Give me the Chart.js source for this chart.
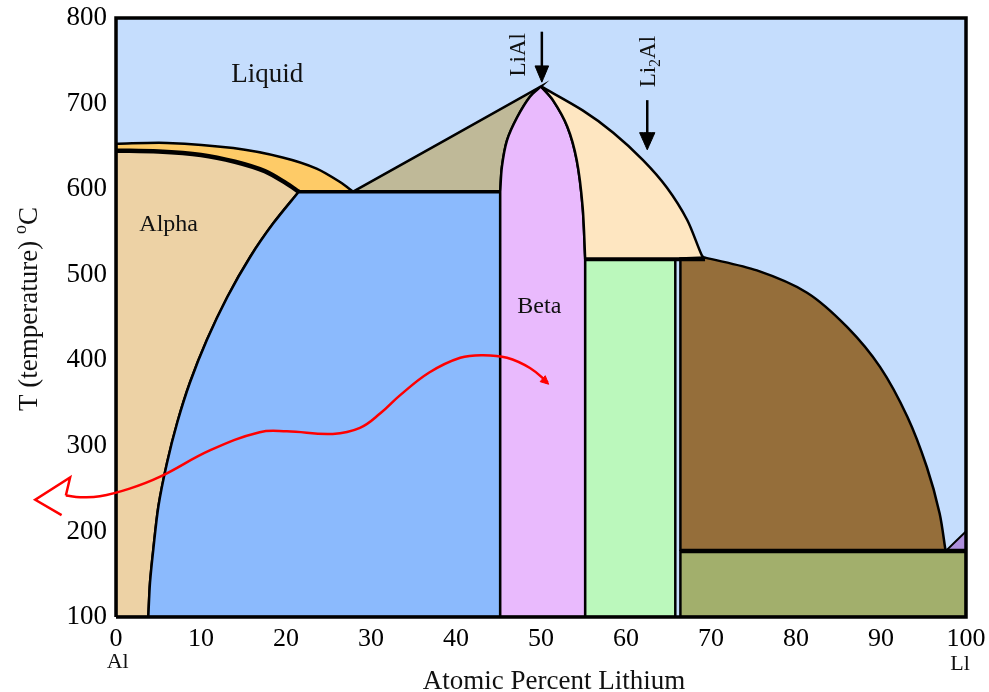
<!DOCTYPE html>
<html>
<head>
<meta charset="utf-8">
<script src="https://cdn.jsdelivr.net/npm/chart.js@4.4.0/dist/chart.umd.min.js"></script>
<style>
  html, body { margin: 0; padding: 0; background: #fff; }
  #wrap { width: 989px; height: 692px; }
</style>
</head>
<body>
<div id="wrap"><canvas id="chart"></canvas></div>
<script>
// ticks
const xTicks = [0, 10, 20, 30, 40, 50, 60, 70, 80, 90, 100];
const yTicks = [100, 200, 300, 400, 500, 600, 700, 800];

// phase boundaries (atomic % Li, temperature C)
const liquidusLX = [0, 6, 13.8, 19.6, 23.6, 26.4, 27.9];
const liquidusLT = [653, 654, 648, 637, 624, 608, 597];
const solidusX = [0, 5, 10, 14, 17.5, 20, 21.5];
const solidusT = [645, 644, 640, 632, 621, 607, 597];
const solvusX = [21.5, 18.5, 15.8, 13.1, 10.7, 8.7, 7.2, 6.0, 5.0, 4.4, 4.0, 3.8];
const solvusT = [597, 560, 521, 474, 424, 374, 327, 280, 230, 180, 140, 100];
const betaLeftX = [50, 48.7, 47.2, 46.0, 45.4, 45.2];
const betaLeftT = [720, 708, 684, 657, 626, 597];
const betaRightX = [50, 51.4, 53.1, 54.2, 54.9, 55.2];
const betaRightT = [720, 704, 673, 634, 579, 518];
const liquidusRX = [50, 54.9, 58.5, 62, 64.8, 67.2, 68.9, 69.3];
const liquidusRT = [720, 692, 666, 634, 602, 564, 523, 518];
const li2alX = [55.2, 65.8];      // green phase, left / right
const li2alT = [100, 518];
const brownTopX = [69.3, 75.4, 81.3, 86, 89.9, 93.1, 95.4, 96.9, 97.6];
const brownTopT = [520, 505, 479, 439, 392, 334, 275, 221, 177];
const brownLeftX = 66.4;
const lowT = [100, 177, 200];     // bottom, olive top, purple corner
const eutecticT = 597;

// red hand-drawn arrow
const redX = [-5.9, -4.2, -1.9, 1.6, 5.2, 11.1, 16.9, 20.1, 25.5, 28.7, 31.1, 33.4, 36.9, 40.5, 43.2, 46, 48.7, 50.8];
const redT = [242, 240, 241, 250, 264, 295, 316, 317, 314, 321, 338, 359, 386, 403, 406, 403, 391, 374];
const redHeadX = [-5.9, -5.4, -9.5, -6.4];
const redHeadT = [242, 263, 237, 219];

const S = 'Liberation Serif';

function toPts(xs, ts) { return xs.map((x, i) => ({ x: x, y: ts[i] })); }
function rev(a) { return a.slice().reverse(); }
function P(x, y) { return { x: x, y: y }; }

// pieces: arrays of points; piece ends are doubled so the spline keeps sharp corners
function path(pieces) {
    const out = [];
    pieces.forEach(pc => {
        out.push(pc[0]);
        pc.forEach(p => out.push(p));
        out.push(pc[pc.length - 1]);
    });
    return out;
}

let ord = 100;
function poly(pieces, color, bw) {
    const pts = path(pieces.concat([[pieces[0][0]]]));
    return { data: pts, showLine: true, fill: 'shape', backgroundColor: color,
             borderColor: '#000', borderWidth: bw === undefined ? 2.5 : bw,
             pointRadius: 0, tension: 0.3, order: ord-- };
}
function line(pieces, color, w, opts) {
    return Object.assign({ data: path(pieces), showLine: true, fill: false, borderColor: color,
             borderWidth: w, pointRadius: 0, tension: 0.3, order: ord-- }, opts || {});
}

const solidus = toPts(solidusX, solidusT);
const solvus = toPts(solvusX, solvusT);
const betaL = toPts(betaLeftX, betaLeftT);
const betaR = toPts(betaRightX, betaRightT);
const liqL = toPts(liquidusLX, liquidusLT);
const liqR = toPts(liquidusRX, liquidusRT);
const brownTop = toPts(brownTopX, brownTopT);
const gL = li2alX[0], gR = li2alX[1], gTop = li2alT[1];
const bx = brownLeftX;
const eutL = P(solidusX[6], eutecticT), eutR = P(betaLeftX[5], eutecticT);

const datasets = [
    // liquid background
    poly([[P(0, 100)], [P(100, 100)], [P(100, 800)], [P(0, 800)]], '#c5ddfd', 0),
    // alpha
    poly([[P(0, 100)], solidus, solvus], '#edd2a5'),
    // liquid + alpha
    poly([liqL, [eutL], rev(solidus)], '#fecb67'),
    // alpha + beta
    poly([solvus, [P(eutR.x, 100)], [eutR]], '#8bbafd'),
    // liquid + beta (left)
    poly([[P(liquidusLX[6], eutecticT)], betaL], '#bfb998'),
    // beta
    poly([betaL, [P(eutR.x, 100)], [P(gL, 100)], rev(betaR)], '#e9bafd'),
    // liquid + beta (right)
    poly([liqR, rev(betaR)], '#fee6c1'),
    // green
    poly([[P(gL, 100)], [P(gR, 100)], [P(gR, gTop)], [P(gL, gTop)]], '#bbf8bc'),
    // brown
    poly([[P(bx, lowT[1])], [P(bx, gTop + 1)], brownTop], '#956e3a'),
    // olive
    poly([[P(bx, 100)], [P(100, 100)], [P(100, lowT[1])], [P(bx, lowT[1])]], '#a2af6c'),
    // purple corner
    poly([[P(brownTopX[8], lowT[1])], [P(100, lowT[2])], [P(100, lowT[1])]], '#ae8fdd', 2),
    // thick lines
    line([solidus], '#000', 4.5),
    line([[eutL], [eutR]], '#000', 3.5),
    line([[P(gL, gTop)], [P(liquidusRX[7], gTop)]], '#000', 4),
    line([[P(bx, lowT[1])], [P(100, lowT[1])]], '#000', 4.5),
    // compound arrows
    line([[P(50.1, 784)], [P(50.1, 736)]], '#000', 2.5),
    poly([[P(49.3, 744)], [P(50.9, 744)], [P(50.1, 725)]], '#000', 1),
    line([[P(62.5, 704)], [P(62.5, 656)]], '#000', 2.5),
    poly([[P(61.6, 666)], [P(63.4, 666)], [P(62.5, 646)]], '#000', 1),
    // plot frame
    line([[P(0, 100)], [P(100, 100)], [P(100, 800)], [P(0, 800)], [P(0, 100)]], '#000', 3.5, { clip: false }),
    // red arrow (drawn right to left)
    line([rev(toPts(redX, redT))], '#ff0000', 2.5, { clip: false, capBezierPoints: false, tension: 0.4 }),
    line([toPts(redHeadX, redHeadT)], '#ff0000', 2.5, { clip: false, tension: 0 }),
    Object.assign(poly([[P(50.9, 372)], [P(49.9, 375)], [P(50.5, 382)]], '#ff0000', 1), { borderColor: '#ff0000' })
];

function vText(ctx, parts, cx, cy) {
    // parts: [text, size, shift]; drawn rotated, reading bottom to top
    ctx.save();
    ctx.translate(cx, cy);
    ctx.rotate(-Math.PI / 2);
    let w = 0;
    parts.forEach(p => { ctx.font = p[1] + 'px ' + S; w += ctx.measureText(p[0]).width; });
    let pos = -w / 2;
    ctx.textAlign = 'left';
    ctx.textBaseline = 'alphabetic';
    parts.forEach(p => {
        ctx.font = p[1] + 'px ' + S;
        ctx.fillText(p[0], pos, p[2]);
        pos += ctx.measureText(p[0]).width;
    });
    ctx.restore();
}

const labelPlugin = {
    id: 'labels',
    afterDatasetsDraw(chart) {
        const ctx = chart.ctx;
        const x = chart.scales.x, y = chart.scales.y;
        ctx.save();
        ctx.fillStyle = '#111';
        ctx.textAlign = 'center';
        ctx.textBaseline = 'middle';
        ctx.font = '27px ' + S;
        ctx.fillText('Liquid', x.getPixelForValue(17.8), y.getPixelForValue(734));
        ctx.font = '24px ' + S;
        ctx.fillText('Alpha', x.getPixelForValue(6.2), y.getPixelForValue(558));
        ctx.fillText('Beta', x.getPixelForValue(49.8), y.getPixelForValue(463));
        ctx.font = '22px ' + S;
        ctx.fillText('Al', x.getPixelForValue(0.2), 662);
        ctx.fillText('Ll', x.getPixelForValue(99.3), 664);
        ctx.font = '27px ' + S;
        ctx.textBaseline = 'alphabetic';
        ctx.fillText('Atomic Percent Lithium', 554, 689);
        ctx.restore();

        ctx.save();
        ctx.fillStyle = '#111';
        vText(ctx, [['LiAl', 23, 8]], x.getPixelForValue(47.2), y.getPixelForValue(757));
        vText(ctx, [['Li', 23, 8], ['2', 16, 13], ['Al', 23, 8]], x.getPixelForValue(62.5), y.getPixelForValue(749));
        vText(ctx, [['T (temperature) ', 27, 0], ['o', 18, -11], ['C', 27, 0]], 37, 309);
        ctx.restore();
    }
};

new Chart(document.getElementById('chart'), {
    type: 'line',
    data: { datasets: datasets },
    options: {
        responsive: true,
        maintainAspectRatio: false,
        animation: false,
        layout: { padding: { top: 18, right: 23, left: 0, bottom: 0 } },
        plugins: { legend: { display: false }, tooltip: { enabled: false } },
        scales: {
            x: {
                type: 'linear', min: 0, max: 100,
                afterBuildTicks: s => { s.ticks = xTicks.map(v => ({ value: v })); },
                afterFit: s => { s.height = 75; s.paddingLeft = 0; s.paddingRight = 0; },
                grid: { display: false, drawTicks: false },
                border: { display: false },
                ticks: { color: '#000', padding: 7, maxRotation: 0, autoSkip: false,
                         font: { family: S, size: 26 } }
            },
            y: {
                type: 'linear', min: 100, max: 800,
                afterBuildTicks: s => { s.ticks = yTicks.map(v => ({ value: v })); },
                afterFit: s => { s.width = 116; s.paddingTop = 0; s.paddingBottom = 0; },
                grid: { display: false, drawTicks: false },
                border: { display: false },
                ticks: { color: '#000', padding: 9, font: { family: S, size: 27 } }
            }
        }
    },
    plugins: [labelPlugin]
});
</script>
</body>
</html>
